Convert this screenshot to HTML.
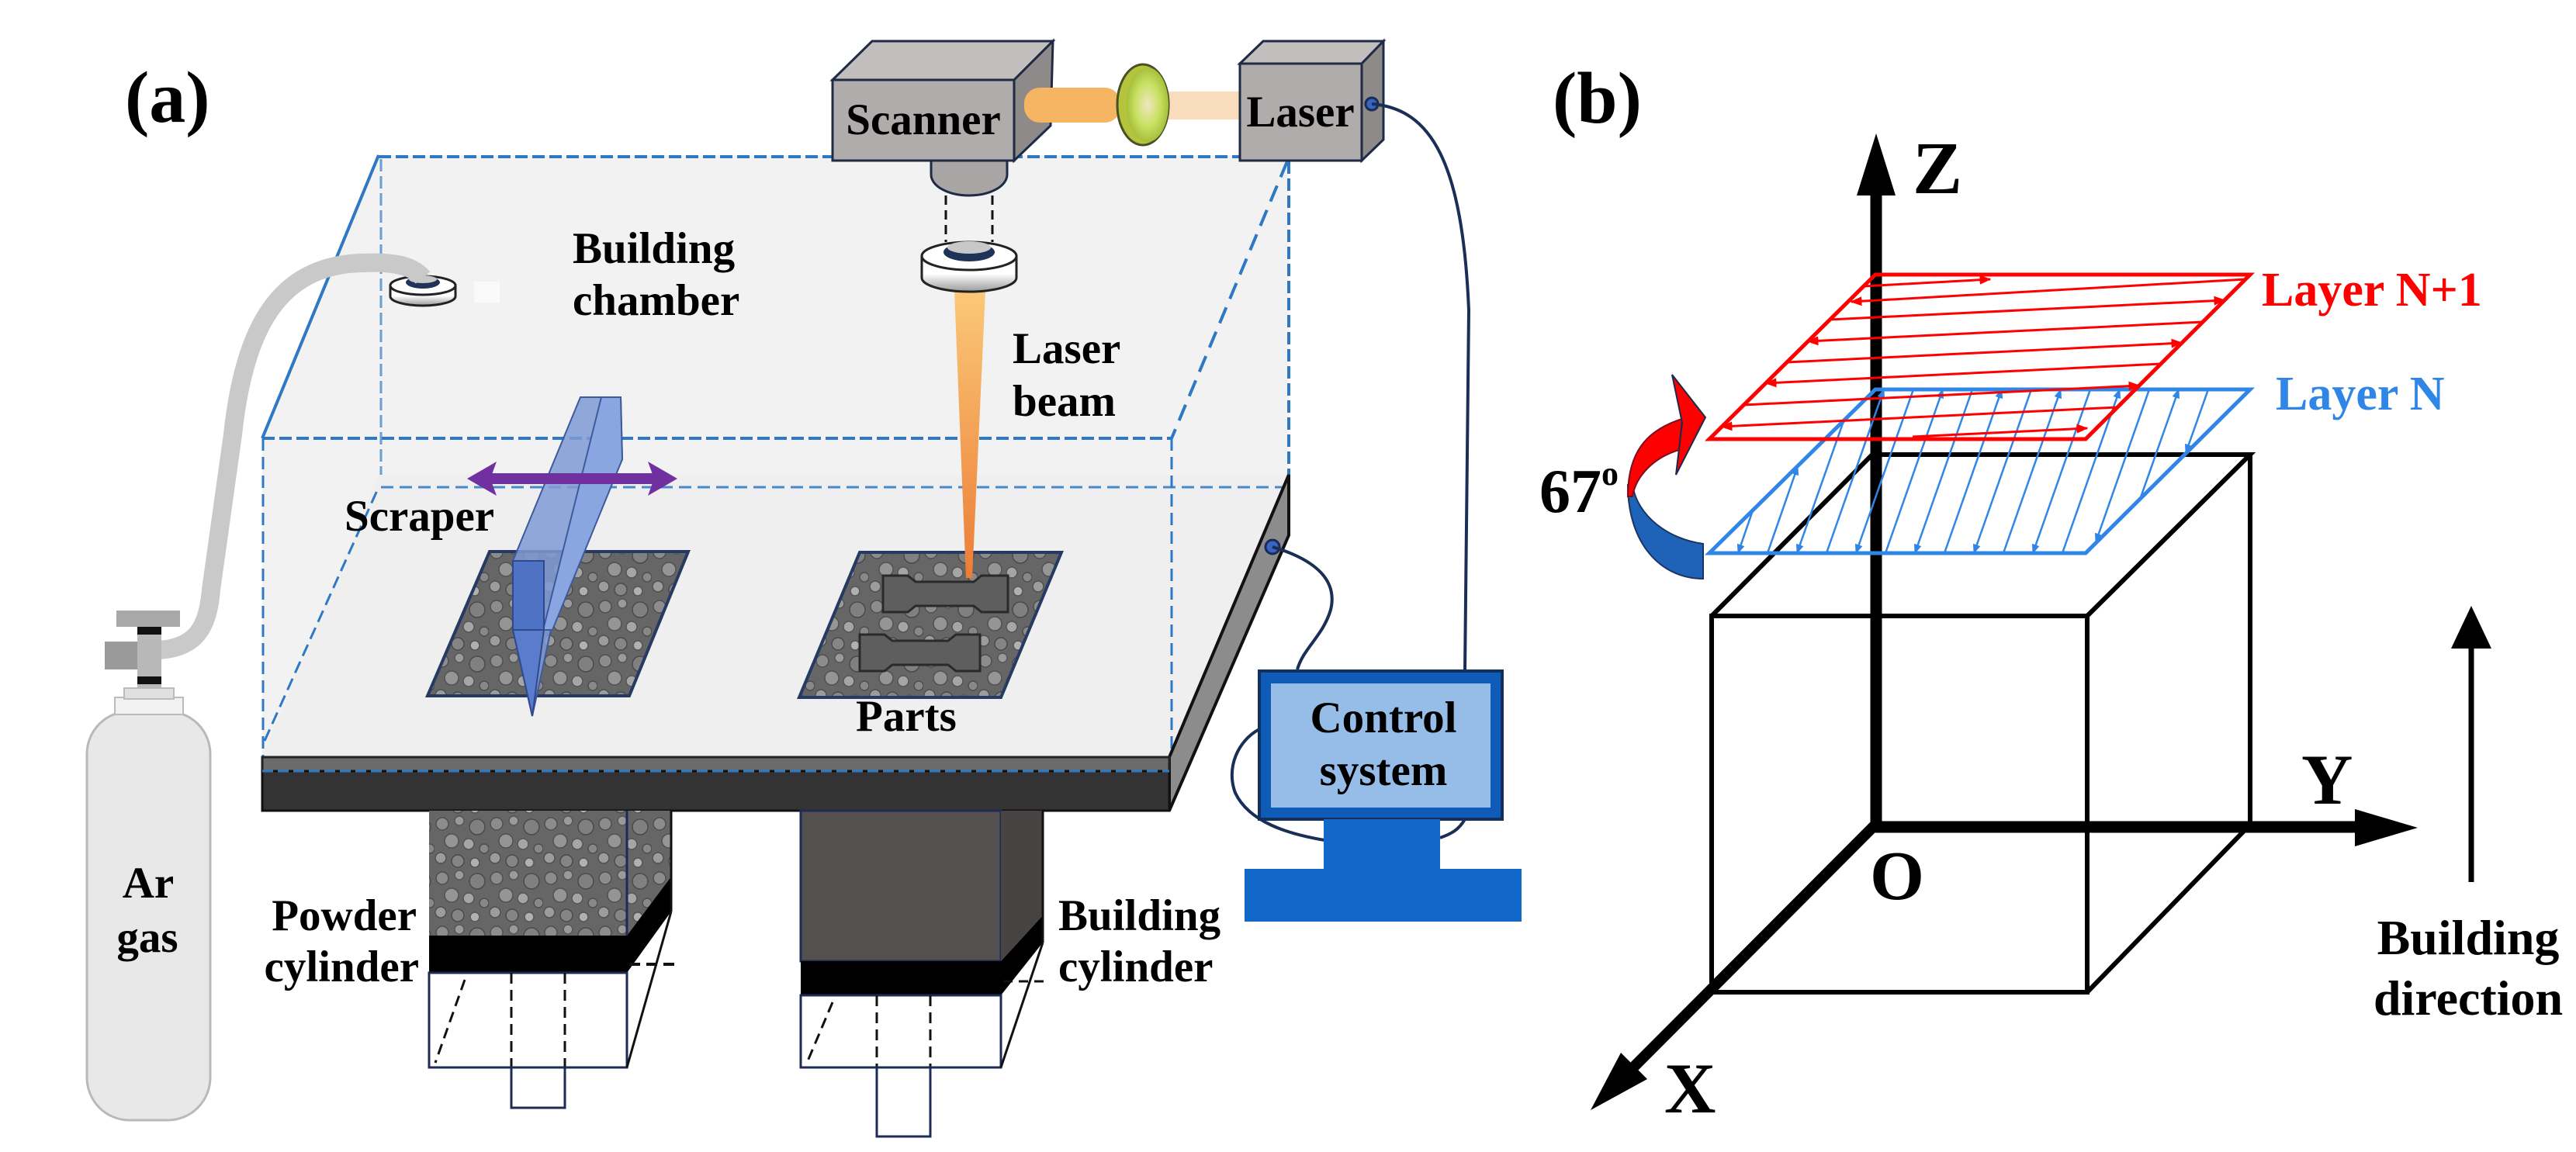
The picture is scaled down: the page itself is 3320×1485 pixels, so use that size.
<!DOCTYPE html>
<html><head><meta charset="utf-8"><style>
html,body{margin:0;padding:0;background:#fff;}
svg{display:block;font-family:"Liberation Serif",serif;}
text{font-family:"Liberation Serif",serif;font-weight:bold;}
</style></head><body>
<svg width="3320" height="1485" viewBox="0 0 3320 1485" xmlns="http://www.w3.org/2000/svg" font-family="Liberation Serif, serif" font-weight="bold">
<defs>
<pattern id="pw" width="70" height="70" patternUnits="userSpaceOnUse">
<rect width="70" height="70" fill="#666"/>
<circle cx="10" cy="12" r="8" fill="#8c8c8c" stroke="#4e4e4e" stroke-width="1.5"/>
<circle cx="32" cy="8" r="6" fill="#9a9a9a" stroke="#555" stroke-width="1.5"/>
<circle cx="55" cy="16" r="10" fill="#808080" stroke="#4a4a4a" stroke-width="1.5"/>
<circle cx="22" cy="34" r="9" fill="#959595" stroke="#505050" stroke-width="1.5"/>
<circle cx="44" cy="38" r="7" fill="#a5a5a5" stroke="#555" stroke-width="1.5"/>
<circle cx="64" cy="44" r="6" fill="#888" stroke="#4e4e4e" stroke-width="1.5"/>
<circle cx="8" cy="56" r="7" fill="#9c9c9c" stroke="#505050" stroke-width="1.5"/>
<circle cx="30" cy="60" r="8" fill="#858585" stroke="#4a4a4a" stroke-width="1.5"/>
<circle cx="52" cy="62" r="6" fill="#b0b0b0" stroke="#555" stroke-width="1.5"/>
</pattern>
<linearGradient id="beam" x1="0" y1="0" x2="0" y2="1">
<stop offset="0" stop-color="#fbc878"/><stop offset="1" stop-color="#ec7c36"/>
</linearGradient>
<linearGradient id="ring" x1="0" y1="0" x2="0" y2="1">
<stop offset="0" stop-color="#f8f8f8"/><stop offset="0.5" stop-color="#ffffff"/><stop offset="1" stop-color="#9a9a9a"/>
</linearGradient>
<radialGradient id="lens" cx="0.5" cy="0.5" r="0.5">
<stop offset="0" stop-color="#f0e6c0"/><stop offset="0.6" stop-color="#c8e060"/><stop offset="1" stop-color="#a6bf3c"/>
</radialGradient>
<marker id="ab" viewBox="0 0 10 10" refX="9" refY="5" markerWidth="5" markerHeight="5" orient="auto" markerUnits="strokeWidth"><path d="M0,1 L10,5 L0,9 Z" fill="#2f86e6"/></marker>
<marker id="ar" viewBox="0 0 10 10" refX="9" refY="5" markerWidth="5" markerHeight="5" orient="auto" markerUnits="strokeWidth"><path d="M0,1 L10,5 L0,9 Z" fill="#ff0000"/></marker>
</defs>

<text x="161" y="157" font-size="94">(a)</text>
<text x="2001" y="158" font-size="94">(b)</text>

<polygon points="488,200 1661,200 1661,690 1507,1045 338,1045 338,565" fill="#f2f2f2"/>
<line x1="488" y1="200" x2="338" y2="565" stroke="#2f78c4" stroke-width="4"/>
<line x1="488" y1="202" x2="1661" y2="202" stroke="#2f78c4" stroke-width="4" stroke-dasharray="16,6"/>
<line x1="491" y1="205" x2="491" y2="628" stroke="#6a9fd4" stroke-width="3" stroke-dasharray="16,6"/>
<line x1="1661" y1="208" x2="1661" y2="614" stroke="#2f78c4" stroke-width="4" stroke-dasharray="16,6"/>
<line x1="1659" y1="208" x2="1510" y2="565" stroke="#2f78c4" stroke-width="4" stroke-dasharray="22,12"/>
<line x1="338" y1="565" x2="1510" y2="565" stroke="#2f78c4" stroke-width="4" stroke-dasharray="16,6"/>

<polygon points="338,976 1507,976 1661,612 488,612" fill="#efefef"/>
<line x1="491" y1="628" x2="1661" y2="628" stroke="#4a88cc" stroke-width="3" stroke-dasharray="16,8"/>
<line x1="341" y1="955" x2="488" y2="628" stroke="#2f78c4" stroke-width="3" stroke-dasharray="16,8"/>
<line x1="339" y1="565" x2="339" y2="994" stroke="#2f78c4" stroke-width="3" stroke-dasharray="16,8"/>
<line x1="1510" y1="565" x2="1510" y2="994" stroke="#2f78c4" stroke-width="3" stroke-dasharray="16,8"/>
<polygon points="1507,976 1661,612 1661,690 1507,1045" fill="#8c8c8c" stroke="#111" stroke-width="4"/>
<rect x="338" y="976" width="1169" height="18" fill="#6b6b6b" stroke="#222" stroke-width="3"/>
<rect x="338" y="994" width="1169" height="51" fill="#333" stroke="#111" stroke-width="3"/>
<line x1="338" y1="994" x2="1507" y2="994" stroke="#2f78c4" stroke-width="3" stroke-dasharray="14,6"/>
<circle cx="1640" cy="705" r="9" fill="#3b64c0" stroke="#172b55" stroke-width="3"/>

<polygon points="551,897 811,897 887,711 631,711" fill="url(#pw)" stroke="#263a63" stroke-width="4"/>
<polygon points="1030,899 1290,899 1368,712 1108,712" fill="url(#pw)" stroke="#263a63" stroke-width="4"/>
<path d="M1138,742 L1170,742 L1180,750 L1255,750 L1265,742 L1299,742 L1299,789 L1265,789 L1255,781 L1180,781 L1170,789 L1138,789 Z" fill="#5e5e5e" stroke="#2a2a2a" stroke-width="3"/>
<path d="M1108,818 L1140,818 L1150,826 L1222,826 L1232,818 L1263,818 L1263,865 L1232,865 L1222,857 L1150,857 L1140,865 L1108,865 Z" fill="#5e5e5e" stroke="#2a2a2a" stroke-width="3"/>

<polygon points="748,512 800,512 802,592 710,812 686,923 661,812 661,723" fill="#7f9ad6" fill-opacity="0.85" stroke="#3d5a9e" stroke-width="2"/>
<polygon points="775,512 800,512 802,592 712,812 700,812" fill="#8aa6e0" stroke="#3d5a9e" stroke-width="2"/>
<rect x="661" y="723" width="40" height="89" fill="#4e72c4" stroke="#2d4a8e" stroke-width="2"/>
<polygon points="661,812 701,812 686,923" fill="#5b7ccc" stroke="#2d4a8e" stroke-width="2"/>
<line x1="630" y1="617" x2="845" y2="617" stroke="#7030a0" stroke-width="14"/>
<polygon points="602,617 640,595 632,617 640,639" fill="#7030a0"/>
<polygon points="873,617 835,595 843,617 835,639" fill="#7030a0"/>

<polygon points="1230,375 1270,375 1253,745 1245,745" fill="url(#beam)"/>

<path d="M503,368 L503,382 A42,12 0 0 0 587,382 L587,368 Z" fill="url(#ring)" stroke="#222" stroke-width="3"/>
<ellipse cx="545" cy="368" rx="42" ry="12" fill="#fff" stroke="#222" stroke-width="3"/>
<ellipse cx="545" cy="364" rx="22" ry="8" fill="#1e3358"/>
<ellipse cx="545" cy="360" rx="18" ry="5" fill="#c8c8c8"/>
<rect x="611" y="363" width="33" height="27" fill="#fafafa"/>

<path d="M205,838 C250,835 268,812 272,760 L300,560 C315,420 360,350 450,340 C500,336 530,340 545,358" fill="none" stroke="#c9c9c9" stroke-width="24"/>

<rect x="112" y="917" width="159" height="527" rx="55" fill="#e8e8e8" stroke="#b9b9b9" stroke-width="3"/>
<rect x="148" y="899" width="88" height="22" fill="#f2f2f2" stroke="#bbb" stroke-width="2"/>
<rect x="160" y="887" width="64" height="14" fill="#e0e0e0" stroke="#bbb" stroke-width="2"/>
<rect x="177" y="806" width="31" height="81" fill="#b8b8b8"/>
<rect x="177" y="808" width="31" height="10" fill="#111"/>
<rect x="177" y="872" width="31" height="10" fill="#111"/>
<rect x="150" y="787" width="82" height="21" fill="#a8a8a8"/>
<rect x="135" y="827" width="42" height="36" fill="#9a9a9a"/>
<text x="191" y="1157" font-size="57" text-anchor="middle">Ar</text>
<text x="190" y="1227" font-size="57" text-anchor="middle">gas</text>

<rect x="553" y="1045" width="255" height="161" fill="url(#pw)"/>
<polygon points="808,1045 865,1045 865,1130 808,1206" fill="url(#pw)"/>
<polygon points="808,1206 865,1130 865,1175 808,1254" fill="#000"/>
<rect x="553" y="1206" width="255" height="48" fill="#000"/>
<line x1="808" y1="1045" x2="808" y2="1206" stroke="#1d2b55" stroke-width="3"/>
<rect x="553" y="1254" width="255" height="122" fill="none" stroke="#1d2b55" stroke-width="3"/>
<line x1="865" y1="1175" x2="808" y2="1376" stroke="#111" stroke-width="3"/>
<line x1="865" y1="1045" x2="865" y2="1175" stroke="#111" stroke-width="3"/>
<line x1="811" y1="1243" x2="876" y2="1243" stroke="#111" stroke-width="4" stroke-dasharray="14,8"/>
<line x1="659" y1="1254" x2="659" y2="1376" stroke="#111" stroke-width="3" stroke-dasharray="14,8"/>
<line x1="728" y1="1254" x2="728" y2="1376" stroke="#111" stroke-width="3" stroke-dasharray="14,8"/>
<line x1="599" y1="1263" x2="561" y2="1370" stroke="#111" stroke-width="3" stroke-dasharray="14,8"/>
<rect x="659" y="1376" width="69" height="52" fill="none" stroke="#1d2b55" stroke-width="3"/>
<text x="537" y="1199" font-size="57" text-anchor="end">Powder</text>
<text x="540" y="1265" font-size="57" text-anchor="end">cylinder</text>

<rect x="1032" y="1045" width="258" height="194" fill="#54504f" stroke="#1d2b55" stroke-width="3"/>
<polygon points="1290,1045 1344,1045 1344,1180 1290,1239" fill="#474343"/>
<polygon points="1290,1239 1344,1180 1344,1215 1290,1283" fill="#000"/>
<rect x="1032" y="1239" width="258" height="44" fill="#000"/>
<rect x="1032" y="1283" width="258" height="93" fill="none" stroke="#1d2b55" stroke-width="3"/>
<line x1="1344" y1="1215" x2="1290" y2="1376" stroke="#111" stroke-width="3"/>
<line x1="1344" y1="1045" x2="1344" y2="1215" stroke="#111" stroke-width="3"/>
<line x1="1293" y1="1265" x2="1350" y2="1265" stroke="#111" stroke-width="3" stroke-dasharray="12,8"/>
<line x1="1130" y1="1283" x2="1130" y2="1376" stroke="#111" stroke-width="3" stroke-dasharray="14,8"/>
<line x1="1199" y1="1283" x2="1199" y2="1376" stroke="#111" stroke-width="3" stroke-dasharray="14,8"/>
<line x1="1073" y1="1292" x2="1040" y2="1370" stroke="#111" stroke-width="3" stroke-dasharray="14,8"/>
<rect x="1130" y="1376" width="69" height="89" fill="none" stroke="#1d2b55" stroke-width="3"/>
<text x="1364" y="1199" font-size="57">Building</text>
<text x="1364" y="1265" font-size="57">cylinder</text>

<polygon points="1073,103 1124,53 1357,53 1307,103" fill="#c2bebd" stroke="#1f2b45" stroke-width="3"/>
<polygon points="1307,103 1357,53 1354,162 1307,207" fill="#8e8a89" stroke="#1f2b45" stroke-width="3"/>
<rect x="1073" y="103" width="234" height="104" fill="#b0acab" stroke="#1f2b45" stroke-width="3"/>
<text x="1190" y="173" font-size="57" text-anchor="middle">Scanner</text>
<path d="M1200,207 L1200,225 A49,27 0 0 0 1298,225 L1298,207 Z" fill="#a9a5a4" stroke="#1f2b45" stroke-width="3"/>
<line x1="1219" y1="252" x2="1219" y2="312" stroke="#111" stroke-width="3" stroke-dasharray="12,7"/>
<line x1="1279" y1="252" x2="1279" y2="312" stroke="#111" stroke-width="3" stroke-dasharray="12,7"/>
<rect x="1320" y="113" width="124" height="45" rx="20" fill="#f5b563"/>
<rect x="1500" y="118" width="100" height="36" fill="#f9dcbc"/>
<ellipse cx="1473" cy="135" rx="33" ry="52" fill="#b4c43c" stroke="#4a4f25" stroke-width="3"/>
<ellipse cx="1479" cy="135" rx="27" ry="48" fill="url(#lens)"/>
<polygon points="1598,82 1628,53 1783,53 1755,82" fill="#c2bebd" stroke="#1f2b45" stroke-width="3"/>
<polygon points="1755,82 1783,53 1783,180 1755,207" fill="#8e8a89" stroke="#1f2b45" stroke-width="3"/>
<rect x="1598" y="82" width="157" height="125" fill="#b0acab" stroke="#1f2b45" stroke-width="3"/>
<text x="1676" y="163" font-size="57" text-anchor="middle">Laser</text>
<circle cx="1768" cy="134" r="8" fill="#3b64c0" stroke="#172b55" stroke-width="3"/>
<path d="M1188,330 L1188,358 A61,18 0 0 0 1310,358 L1310,330 Z" fill="url(#ring)" stroke="#222" stroke-width="3"/>
<ellipse cx="1249" cy="330" rx="61" ry="18" fill="#fff" stroke="#222" stroke-width="3"/>
<ellipse cx="1249" cy="325" rx="33" ry="12" fill="#1e3358"/>
<ellipse cx="1249" cy="319" rx="28" ry="8" fill="#c8c8c8"/>

<text x="738" y="339" font-size="57">Building</text>
<text x="738" y="406" font-size="57">chamber</text>
<text x="1305" y="468" font-size="57">Laser</text>
<text x="1305" y="536" font-size="57">beam</text>
<text x="444" y="684" font-size="57">Scraper</text>
<text x="1103" y="942" font-size="57">Parts</text>

<path d="M1768,134 C1845,140 1885,210 1893,400 L1888,865" fill="none" stroke="#1a2f55" stroke-width="4"/>
<path d="M1640,705 C1690,720 1725,745 1715,786 C1705,820 1680,835 1672,863" fill="none" stroke="#1a2f55" stroke-width="4"/>
<path d="M1623,940 C1595,955 1580,990 1592,1022 C1610,1060 1660,1075 1707,1083" fill="none" stroke="#1a2f55" stroke-width="4"/>
<path d="M1856,1080 C1870,1075 1880,1070 1888,1056" fill="none" stroke="#1a2f55" stroke-width="4"/>
<rect x="1623" y="865" width="313" height="191" fill="#0f5cb8" stroke="#12305e" stroke-width="4"/>
<rect x="1638" y="881" width="283" height="160" fill="#95bde8"/>
<text x="1783" y="944" font-size="57" text-anchor="middle">Control</text>
<text x="1783" y="1012" font-size="57" text-anchor="middle">system</text>
<rect x="1706" y="1056" width="150" height="64" fill="#1268c8"/>
<rect x="1604" y="1120" width="357" height="68" fill="#1268c8"/>

<g fill="none" stroke="#000" stroke-width="6">
<rect x="2206" y="794" width="484" height="485"/>
<polyline points="2206,794 2413,586 2900,586 2690,794"/>
<polyline points="2900,586 2900,1063 2690,1279"/>
</g>
<line x1="2418" y1="1065" x2="2418" y2="245" stroke="#000" stroke-width="15"/>
<polygon points="2418,172 2443,252 2393,252" fill="#000"/>
<line x1="2412" y1="1066" x2="3040" y2="1066" stroke="#000" stroke-width="15"/>
<polygon points="3116,1067 3035,1043 3035,1091" fill="#000"/>
<line x1="2420" y1="1060" x2="2095" y2="1386" stroke="#000" stroke-width="14"/>
<polygon points="2050,1431 2123,1391 2089,1357" fill="#000"/>
<text x="2465" y="249" font-size="96">Z</text>
<text x="2966" y="1036" font-size="92">Y</text>
<text x="2145" y="1434" font-size="92">X</text>
<text x="2410" y="1159" font-size="90">O</text>
<line x1="3185" y1="1137" x2="3185" y2="830" stroke="#000" stroke-width="7"/>
<polygon points="3185,781 3211,836 3159,836" fill="#000"/>
<text x="3181" y="1230" font-size="64" text-anchor="middle">Building</text>
<text x="3181" y="1308" font-size="64" text-anchor="middle">direction</text>

<polygon points="2417,502 2900,502 2688,713 2203,713" fill="none" stroke="#2f86e6" stroke-width="5"/>
<g stroke="#2f86e6" stroke-width="2.5" fill="none">
<line x1="2259" y1="658" x2="2240" y2="713" marker-end="url(#ab)"/>
<line x1="2278" y1="713" x2="2317" y2="601" marker-end="url(#ab)"/>
<line x1="2376" y1="543" x2="2316" y2="713" marker-end="url(#ab)"/>
<line x1="2354" y1="713" x2="2428" y2="502" marker-end="url(#ab)"/>
<line x1="2466" y1="502" x2="2392" y2="713" marker-end="url(#ab)"/>
<line x1="2430" y1="713" x2="2504" y2="502" marker-end="url(#ab)"/>
<line x1="2542" y1="502" x2="2468" y2="713" marker-end="url(#ab)"/>
<line x1="2506" y1="713" x2="2580" y2="502" marker-end="url(#ab)"/>
<line x1="2618" y1="502" x2="2544" y2="713" marker-end="url(#ab)"/>
<line x1="2582" y1="713" x2="2656" y2="502" marker-end="url(#ab)"/>
<line x1="2694" y1="502" x2="2620" y2="713" marker-end="url(#ab)"/>
<line x1="2658" y1="713" x2="2732" y2="502" marker-end="url(#ab)"/>
<line x1="2770" y1="502" x2="2701" y2="699" marker-end="url(#ab)"/>
<line x1="2759" y1="641" x2="2808" y2="502" marker-end="url(#ab)"/>
<line x1="2846" y1="502" x2="2817" y2="584" marker-end="url(#ab)"/>
</g>
<polygon points="2417,354 2900,354 2688,566 2203,566" fill="none" stroke="#ff0000" stroke-width="5"/>
<g stroke="#ff0000" stroke-width="3" fill="none">
<line x1="2402" y1="369" x2="2565" y2="360" marker-end="url(#ar)"/>
<line x1="2894" y1="360" x2="2386" y2="389" marker-end="url(#ar)"/>
<line x1="2358" y1="412" x2="2867" y2="387" marker-end="url(#ar)"/>
<line x1="2839" y1="415" x2="2330" y2="440" marker-end="url(#ar)"/>
<line x1="2303" y1="467" x2="2812" y2="442" marker-end="url(#ar)"/>
<line x1="2785" y1="469" x2="2276" y2="494" marker-end="url(#ar)"/>
<line x1="2247" y1="522" x2="2757" y2="497" marker-end="url(#ar)"/>
<line x1="2729" y1="525" x2="2219" y2="550" marker-end="url(#ar)"/>
<line x1="2465" y1="563" x2="2690" y2="552" marker-end="url(#ar)"/>
</g>
<text x="2915" y="394" font-size="62" fill="#ff0000">Layer N+1</text>
<text x="2933" y="528" font-size="62" fill="#2f86e6">Layer N</text>

<path d="M2195,701 C2150,695 2110,665 2104,625 L2098,625 C2098,700 2140,746 2195,746 Z" fill="#1f63b8" stroke="#1a3560" stroke-width="2"/>
<path d="M2098,640 C2098,585 2120,555 2168,540 L2164,580 C2130,590 2108,615 2104,640 Z" fill="#ff0000" stroke="#7a1020" stroke-width="2"/>
<polygon points="2155,483 2198,538 2160,612 2168,545" fill="#ff0000" stroke="#1a2a50" stroke-width="2"/>
<text x="1984" y="660" font-size="80">67</text>
<text x="2064" y="625" font-size="44">o</text>
</svg>
</body></html>
